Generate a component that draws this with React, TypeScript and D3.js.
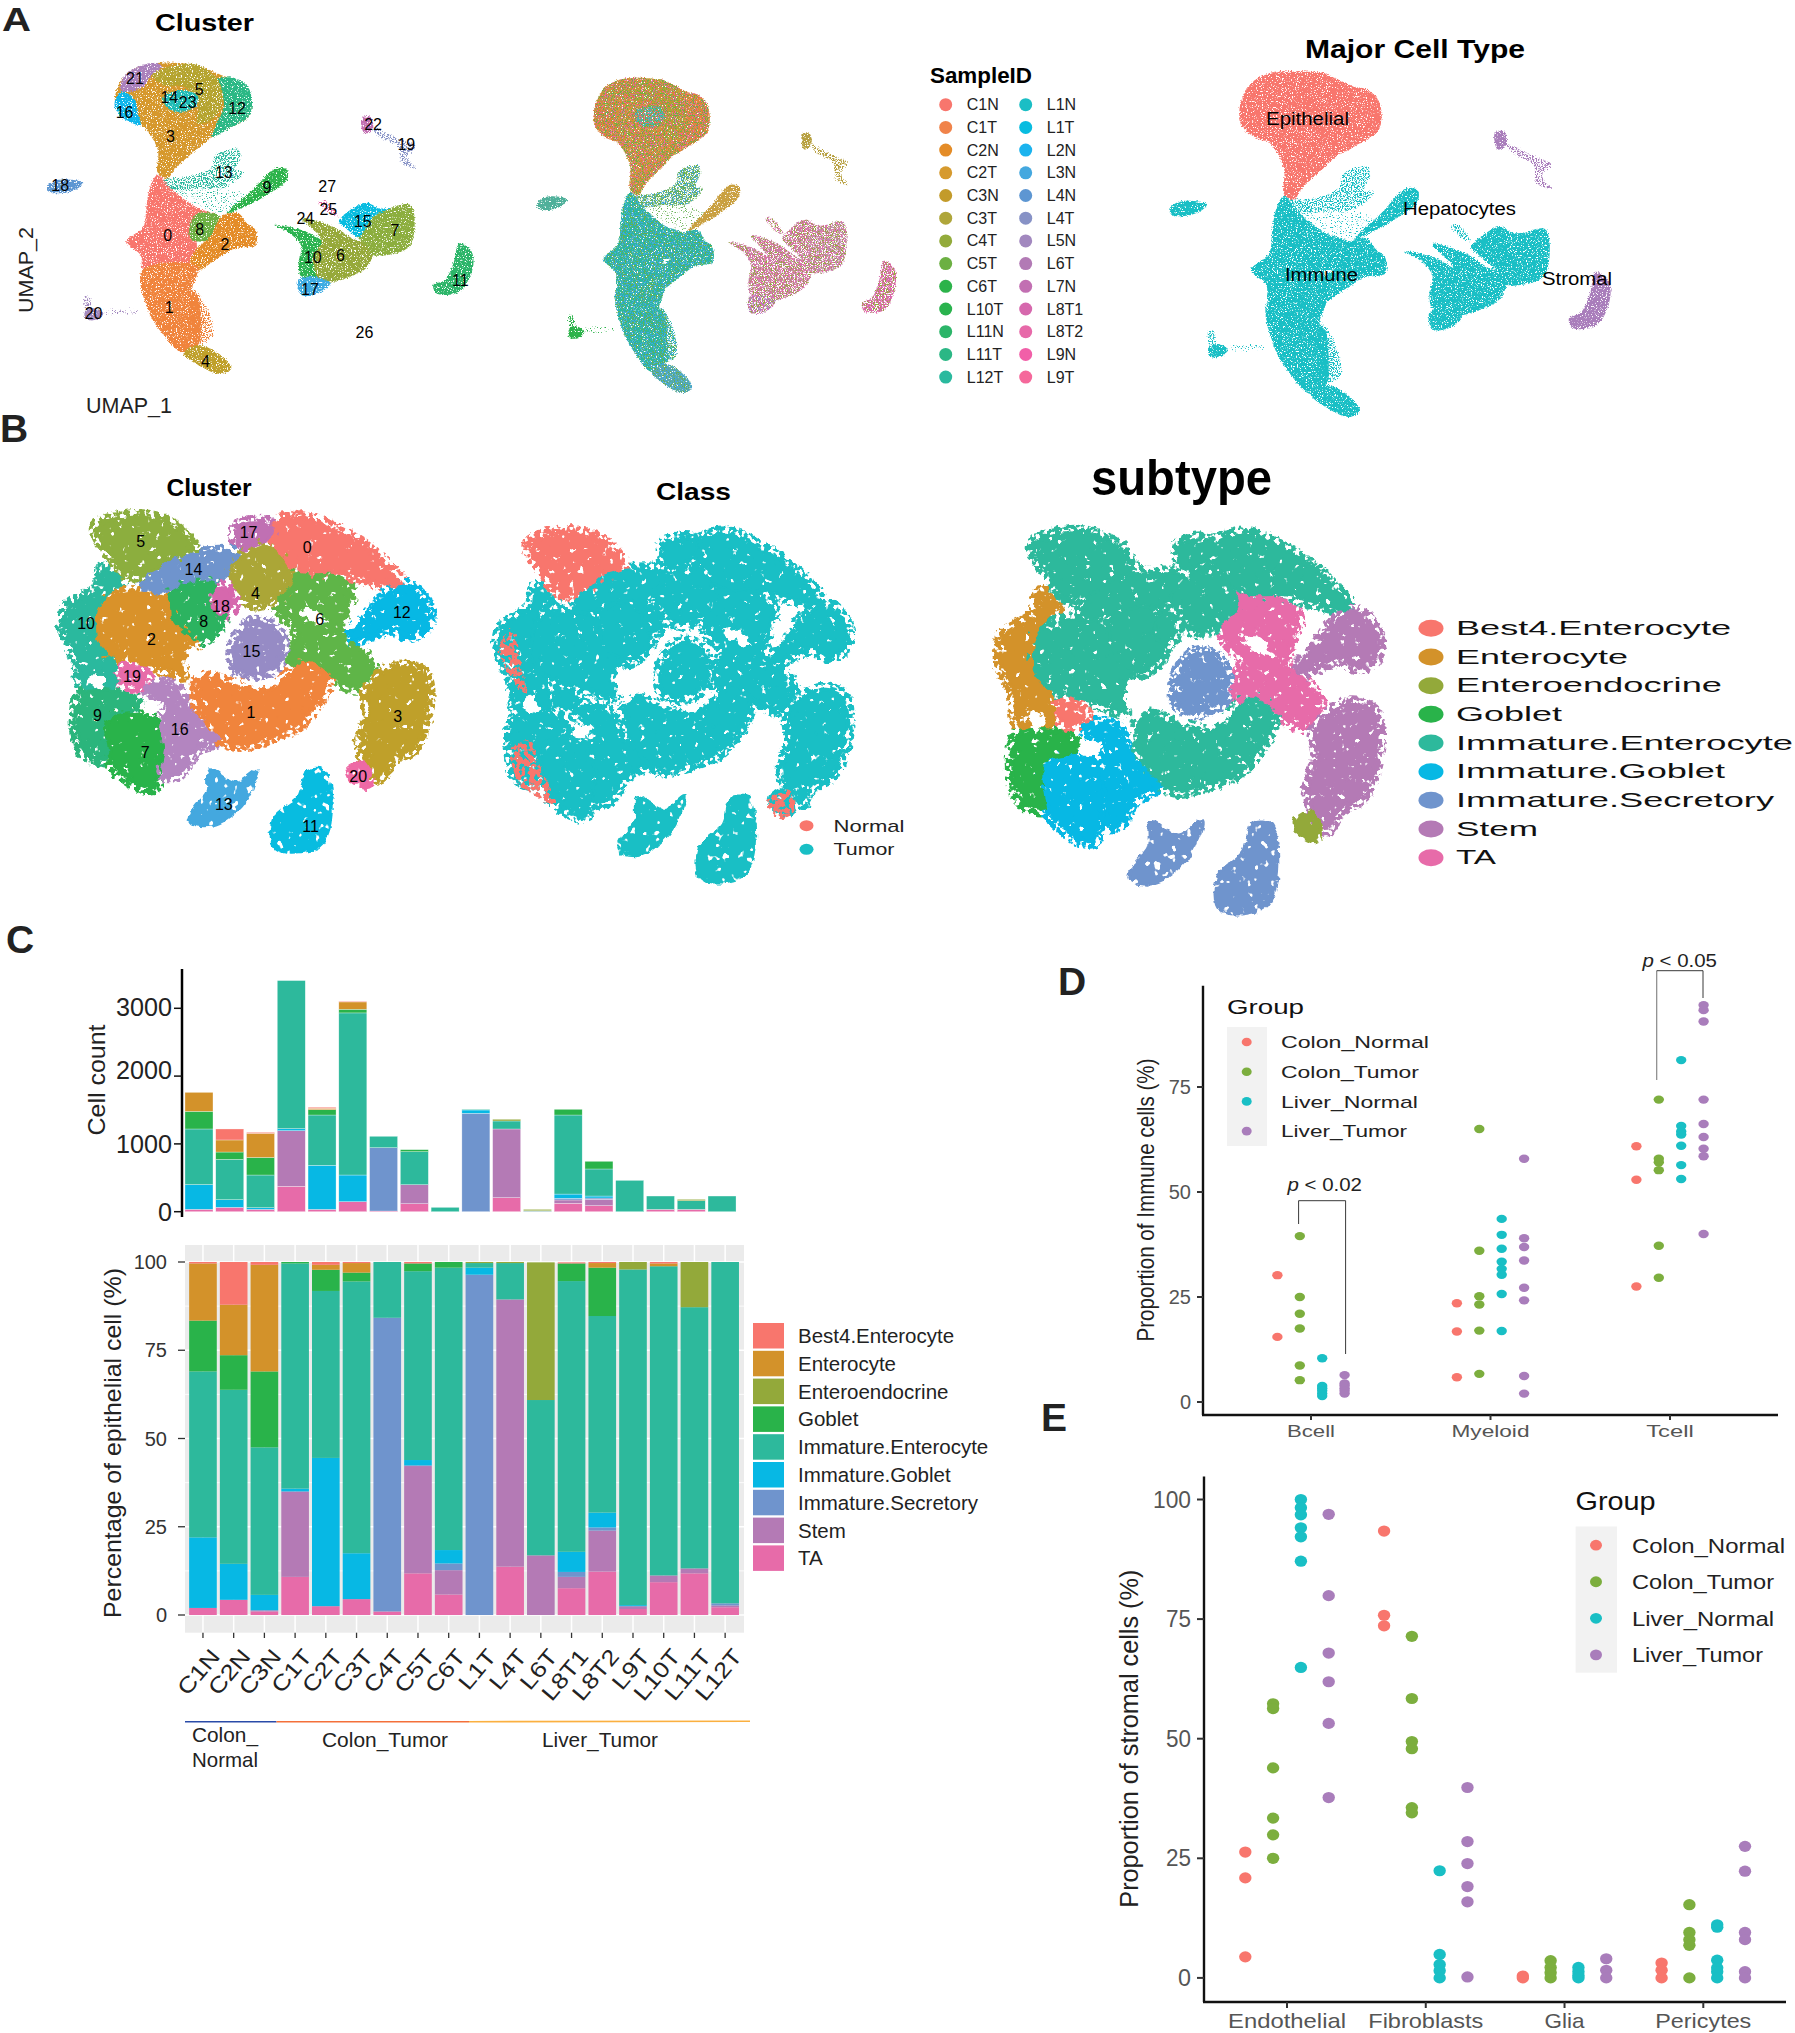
import React from "react";
import * as d3 from "d3";

type P = [number, number];
const FONT = "'Liberation Sans', Arial, sans-serif";

// ---------- Panel A: UMAP regions (UMAP-plot units) ----------
const a3: P[] = [[205,260],[225,215],[270,190],[340,195],[385,225],[430,260],[435,345],[400,385],[370,410],[335,460],[305,505],[292,535],[275,520],[275,450],[250,380],[210,340],[200,300]];
const a12: P[] = [[375,240],[410,235],[435,270],[435,345],[400,385],[370,410],[375,380],[390,320],[385,270]];
const a21: P[] = [[210,265],[220,220],[270,188],[282,200],[262,230],[250,260],[215,275]];
const a16: P[] = [[203,290],[215,275],[235,300],[240,340],[245,375],[215,355],[200,320]];
const a5: P[] = [[265,225],[310,195],[345,195],[380,240],[388,300],[375,350],[345,370],[345,300],[320,260],[285,255]];
const a14: P[] = [[285,290],[320,270],[345,290],[340,320],[310,335],[290,320]];
const a13: P[] = [[285,540],[330,530],[370,500],[375,465],[415,447],[420,470],[410,510],[425,515],[395,560],[340,565],[300,570]];
const a13b: P[] = [[290,560],[340,560],[400,570],[430,590],[395,640],[345,615],[310,580]];
const a9: P[] = [[395,640],[440,570],[480,505],[500,510],[500,540],[460,590],[420,625]];
const a0: P[] = [[275,525],[300,570],[345,625],[375,645],[345,690],[340,770],[300,810],[250,810],[245,765],[220,725],[250,680],[255,620],[262,560]];
const a8: P[] = [[345,640],[385,650],[385,690],[365,720],[335,720],[330,680]];
const a2: P[] = [[385,650],[415,640],[430,670],[445,690],[445,735],[410,745],[375,780],[345,810],[330,790],[345,740],[365,715]];
const a1: P[] = [[248,810],[345,800],[335,870],[345,890],[350,1000],[345,1035],[320,1060],[285,1005],[258,930]];
const a1w: P[] = [[338,870],[360,920],[370,1010],[345,1030],[330,960]];
const a4: P[] = [[320,1060],[345,1035],[380,1060],[403,1105],[385,1122],[345,1095]];
const a18: P[] = [[82,560],[100,540],[145,548],[130,570],[100,580],[85,575]];
const a20: P[] = [[148,935],[165,925],[180,940],[170,958],[150,958]];
const a20w: P[] = [[148,888],[155,890],[158,930],[150,930]];
const a20t: P[] = [[180,930],[240,930],[240,938],[180,938]];
const a22: P[] = [[630,355],[645,350],[650,385],[635,400]];
const a19: P[] = [[650,385],[700,420],[725,440],[710,470],[725,505],[700,490],[695,440],[660,410]];
const a11: P[] = [[800,730],[820,750],[825,790],[810,860],[790,882],[760,880],[755,855],[775,840],[790,790],[795,750]];
const a10: P[] = [[478,675],[525,690],[560,720],[590,770],[590,830],[550,840],[525,830],[520,790],[525,740],[505,700]];
const a6: P[] = [[525,655],[580,680],[620,720],[650,740],[640,800],[610,830],[560,845],[545,780],[560,720]];
const a7: P[] = [[680,625],[715,615],[722,690],[710,745],[650,765],[640,740],[620,700],[650,650]];
const a15: P[] = [[590,665],[615,625],[640,608],[660,625],[680,625],[650,650],[625,710],[600,680]];
const a17: P[] = [[520,840],[550,830],[575,850],[555,880],[525,885]];
const a25: P[] = [[555,605],[570,605],[590,650],[575,640]];

const aRegions: { id: string; pts: P[]; c1: string; c2: string; c3: string; sparse?: boolean; faint?: boolean }[] = [
  { id: "3", pts: a3, c1: "#D6982C", c2: "#D09A3A", c3: "#F8766D" },
  { id: "12", pts: a12, c1: "#2BB885", c2: "#E08A3C", c3: "#F8766D" },
  { id: "21", pts: a21, c1: "#AA80BC", c2: "#C89A3A", c3: "#F8766D" },
  { id: "16", pts: a16, c1: "#0DB5EB", c2: "#D98A3A", c3: "#F8766D" },
  { id: "5", pts: a5, c1: "#B5A42F", c2: "#B5A42F", c3: "#F8766D" },
  { id: "14", pts: a14, c1: "#1FBCB6", c2: "#3BBBB5", c3: "#F8766D" },
  { id: "13", pts: a13, c1: "#2AB99E", c2: "#6DB35A", c3: "#19BFC5", sparse: true },
  { id: "13b", pts: a13b, c1: "#2AB99E", c2: "#6DB35A", c3: "#19BFC5", faint: true },
  { id: "9", pts: a9, c1: "#2CB34A", c2: "#C9A040", c3: "#19BFC5" },
  { id: "0", pts: a0, c1: "#F8766D", c2: "#2AB79F", c3: "#19BFC5" },
  { id: "8", pts: a8, c1: "#6CB043", c2: "#2AB79F", c3: "#19BFC5" },
  { id: "2", pts: a2, c1: "#E48C27", c2: "#2AB79F", c3: "#19BFC5" },
  { id: "1", pts: a1, c1: "#F0843C", c2: "#2AB79F", c3: "#19BFC5" },
  { id: "1w", pts: a1w, c1: "#F0843C", c2: "#2AB79F", c3: "#19BFC5", sparse: true },
  { id: "4", pts: a4, c1: "#BFA02A", c2: "#55A8B0", c3: "#19BFC5" },
  { id: "18", pts: a18, c1: "#5D96D2", c2: "#4FB09A", c3: "#19BFC5" },
  { id: "20", pts: a20, c1: "#A288BF", c2: "#2CB34A", c3: "#19BFC5" },
  { id: "20w", pts: a20w, c1: "#A288BF", c2: "#2CB34A", c3: "#19BFC5", sparse: true },
  { id: "20t", pts: a20t, c1: "#A288BF", c2: "#2CB34A", c3: "#19BFC5", faint: true },
  { id: "22", pts: a22, c1: "#C26FB2", c2: "#B7A040", c3: "#A97DBB" },
  { id: "19", pts: a19, c1: "#8792C6", c2: "#B7A040", c3: "#A97DBB", sparse: true },
  { id: "11", pts: a11, c1: "#2CB569", c2: "#D668AD", c3: "#A97DBB" },
  { id: "10", pts: a10, c1: "#2BB350", c2: "#C97FA8", c3: "#19BFC5" },
  { id: "6", pts: a6, c1: "#96A93A", c2: "#C97FA8", c3: "#19BFC5" },
  { id: "7", pts: a7, c1: "#8CAE3E", c2: "#C48BB0", c3: "#19BFC5" },
  { id: "15", pts: a15, c1: "#08BCE0", c2: "#C97FA8", c3: "#19BFC5" },
  { id: "17", pts: a17, c1: "#3DABE2", c2: "#B07FC0", c3: "#19BFC5" },
  { id: "25", pts: a25, c1: "#E769A9", c2: "#C97FA8", c3: "#19BFC5", sparse: true },
];
const aLabels: [string, number, number][] = [["21",235,235],["16",217,335],["14",295,290],["23",327,307],["5",347,268],["12",413,325],["3",297,408],["13",390,515],["9",465,560],["18",105,555],["22",650,372],["19",708,432],["27",570,558],["25",572,628],["24",532,655],["15",632,662],["7",688,690],["0",292,705],["8",348,688],["2",392,732],["10",545,770],["6",593,765],["17",540,866],["11",802,840],["20",163,940],["1",295,920],["4",358,1082],["26",635,997]];
const sampleIds = ["C1N","C1T","C2N","C2T","C3N","C3T","C4T","C5T","C6T","L10T","L11N","L11T","L12T","L1N","L1T","L2N","L3N","L4N","L4T","L5N","L6T","L7N","L8T1","L8T2","L9N","L9T"];
const sampleColors = ["#F8766D","#F0834A","#E48C27","#D69A2E","#C39B2A","#AFA63A","#93AB3B","#6CB043","#2CB34A","#2AB34E","#2CB569","#2BB785","#2AB99E","#1BBEC5","#08BCE0","#1BB3EE","#44A8DF","#5D96D2","#8792C6","#A288BF","#B27AB5","#C26FB2","#D668AD","#E769A9","#F15FA8","#F5689B"];

// ---------- Panel B: UMAP regions ----------
const b5: P[] = [[170,290],[230,262],[275,270],[310,300],[335,360],[300,380],[270,420],[220,430],[195,370],[172,320]];
const b0: P[] = [[470,295],[525,265],[575,295],[640,360],[700,470],[650,450],[590,425],[520,420],[480,370]];
const b17: P[] = [[415,290],[470,285],[470,320],[440,350],[420,360],[412,325]];
const b14: P[] = [[260,430],[300,385],[350,370],[420,380],[400,430],[360,470],[300,480],[250,490]];
const b4: P[] = [[420,385],[465,350],[500,410],[510,450],[490,490],[440,520],[410,470],[400,430]];
const b6: P[] = [[490,440],[530,415],[590,440],[610,490],[590,600],[620,650],[650,720],[620,770],[560,720],[500,690],[520,600],[490,540]];
const b8: P[] = [[305,480],[370,460],[390,510],[390,560],[350,630],[310,600],[290,540]];
const b18: P[] = [[375,490],[395,470],[405,530],[385,550],[372,530]];
const b10: P[] = [[180,420],[170,480],[120,530],[112,590],[135,680],[150,780],[200,770],[200,700],[180,600],[175,520],[210,450]];
const b2: P[] = [[180,520],[230,490],[290,510],[300,580],[335,640],[320,730],[280,710],[220,690],[175,640]];
const b19: P[] = [[205,730],[230,710],[255,740],[235,765],[210,750]];
const b9: P[] = [[145,790],[215,790],[240,830],[190,930],[190,985],[150,970],[135,910]];
const b7: P[] = [[190,870],[270,860],[285,930],[275,1040],[265,1075],[200,1010],[190,950]];
const b16: P[] = [[250,770],[300,770],[340,860],[385,920],[340,960],[310,1030],[285,1030],[290,950],[280,890],[290,830]];
const b15: P[] = [[410,640],[440,580],[480,600],[490,690],[440,735],[410,710]];
const b1: P[] = [[350,740],[395,760],[470,780],[530,700],[570,740],[520,880],[460,925],[400,938],[350,850]];
const b12: P[] = [[610,630],[680,490],[710,470],[745,540],[735,600],[700,610],[690,590]];
const b3: P[] = [[640,780],[690,715],[735,730],[745,800],[720,950],[680,990],[660,1040],[640,1000],[630,940],[645,850]];
const b20: P[] = [[605,1020],[635,995],[650,1060],[640,1075],[610,1050]];
const b13: P[] = [[365,1020],[410,1060],[450,1020],[420,1130],[370,1185],[330,1175],[340,1130],[360,1090]];
const b11: P[] = [[535,1025],[565,1025],[575,1180],[555,1250],[480,1255],[477,1165],[520,1100]];
const bRegions: { pts: P[]; c1: string; c3: string; normal?: boolean; island?: boolean }[] = [
  { pts: b10, c1: "#2AB99E", c3: "#D3922A" },
  { pts: b6, c1: "#5FB548", c3: "#E76BA9" },
  { pts: b0, c1: "#F8766D", c3: "#2DB99C" },
  { pts: b17, c1: "#C070B3", c3: "#2DB99C" },
  { pts: b14, c1: "#6F94CD", c3: "#2DB99C" },
  { pts: b8, c1: "#2CB360", c3: "#2DB99C" },
  { pts: b4, c1: "#ABA637", c3: "#2DB99C" },
  { pts: b18, c1: "#D668AD", c3: "#2DB99C" },
  { pts: b2, c1: "#D9922A", c3: "#2DB99C" },
  { pts: b9, c1: "#2BB57C", c3: "#29B34A" },
  { pts: b7, c1: "#29B34A", c3: "#07B8E4" },
  { pts: b16, c1: "#B385C0", c3: "#07B8E4" },
  { pts: b15, c1: "#968BC5", c3: "#6F94CD" },
  { pts: b1, c1: "#F0843C", c3: "#2DB99C" },
  { pts: b12, c1: "#07B8E4", c3: "#B47AB5" },
  { pts: b3, c1: "#BFA02A", c3: "#B47AB5" },
  { pts: b5, c1: "#8CAE3E", c3: "#2DB99C", normal: true },
  { pts: b19, c1: "#E76BA9", c3: "#F8766D" },
  { pts: b20, c1: "#EE69A5", c3: "#93A93A", island: true },
  { pts: b13, c1: "#44A8DF", c3: "#6F94CD", island: true },
  { pts: b11, c1: "#08BCE0", c3: "#6F94CD", island: true },
];
const bHoles: P[][] = [
  [[330,650],[355,660],[365,700],[345,745],[325,720]],
  [[255,815],[280,820],[272,850],[245,845]],
  [[420,745],[440,760],[490,730],[510,715],[478,765],[440,770],[405,752]],
  [[520,545],[545,535],[570,585],[540,575]],
  [[615,520],[645,510],[628,565],[612,590]],
  [[645,650],[685,665],[675,705],[655,690]],
  [[165,730],[185,750],[175,780],[155,750]],
];
const classEdgeA: P[] = [[112,590],[135,540],[150,640],[160,720],[135,680]];
const classEdgeB: P[] = [[135,880],[165,860],[190,950],[215,1040],[150,985]];
const classEdgeC: P[] = [[600,1035],[640,1000],[650,1060],[625,1085]];
const bLabels: [string, number, number][] = [["5",245,333],["17",433,307],["0",535,352],["14",337,418],["4",445,488],["18",385,527],["6",557,566],["12",700,545],["8",355,572],["10",150,580],["2",264,627],["15",438,663],["19",230,738],["9",170,855],["1",437,847],["3",693,857],["16",313,898],["7",253,967],["20",624,1037],["13",390,1123],["11",541,1187]];
const subtypeWidths = [275,172,266,106,337,269,318,82,40];

// ---------- Panel C ----------
const samples = ["C1N","C2N","C3N","C1T","C2T","C3T","C4T","C5T","C6T","L1T","L4T","L6T","L8T1","L8T2","L9T","L10T","L11T","L12T"];
const sampleLabelLen = [52,52,52,49,49,49,49,49,49,45,45,45,59,59,45,59,59,59];
const subtypes = ["Best4.Enterocyte","Enterocyte","Enteroendocrine","Goblet","Immature.Enterocyte","Immature.Goblet","Immature.Secretory","Stem","TA"];
const subtypeColors = ["#F8766D","#D3922A","#93A93A","#29B34A","#2DB99C","#07B8E4","#6F94CD","#B47AB5","#E76BA9"];
const pctTA = [2,4.3,1,10.8,2.5,4.5,1,11.8,5.8,0,13.7,0,7.6,12.3,1.7,9.3,11.8,2.2];
const pctStem = [0,0,0.2,24.2,0,0,0,30.4,6.9,0,75.7,16.9,3.2,11.6,0.8,1.9,1.4,0.5];
const pctSec = [0,0,0.2,0,0,0,83.2,0.2,1.9,96.4,0,0,1.4,0.9,0,0,0,0.6];
const pctImmGob = [20,10.2,4.3,0.8,42,13,0,1.5,3.8,2,0,0,5.7,4.2,0.3,0,0,0];
const pctImmEnt = [47,49.3,41.8,63.8,47.3,77,15.8,53.5,80,1.3,10.3,44,76.7,55.7,95.1,87.6,74,96.7];
const pctGoblet = [14.4,9.8,21.5,0.4,6,2.5,0,2.2,1.6,0,0,0,5,13.7,0,0,0,0];
const pctEnt = [16.2,14.3,30.2,0,1.4,2.7,0,0,0,0,0,0,0,1.3,0,0.8,0,0];
const pctEndo = [0,0,0,0,0,0,0,0,0,0.3,0.3,39,0,0,2.1,0,12.8,0];
const pctBest = [0.4,12.1,0.8,0,0.8,0.3,0,0.4,0,0,0,0,0.3,0.3,0,0.4,0,0];
const nTA = [35,64,34,374,34,148,10,118,0,0,207,0,123,89,0,34,34,0];
const nStem = [0,0,0,821,0,0,0,280,0,0,1013,6,50,93,0,0,0,0];
const nSec = [0,0,0,0,0,0,934,0,0,1451,0,0,24,20,0,0,0,0];
const nImmGob = [365,113,25,30,650,393,0,0,0,49,0,0,63,29,0,0,0,0];
const nImmEnt = [820,595,482,2184,742,2391,168,487,64,10,118,8,1166,399,462,197,128,231];
const nGoblet = [260,108,259,0,79,54,0,30,0,0,0,0,84,113,0,0,0,0];
const nEnt = [280,178,356,0,20,108,0,0,0,0,0,0,0,0,0,0,0,0];
const nEndo = [0,0,0,0,0,0,0,0,0,0,25,20,0,0,0,0,20,0];
const nBest = [0,162,14,0,15,10,0,0,0,0,0,0,0,0,0,0,0,0];
const pctSeries = [pctTA,pctStem,pctSec,pctImmGob,pctImmEnt,pctGoblet,pctEndo,pctEnt,pctBest];
const countSeries = [nTA,nStem,nSec,nImmGob,nImmEnt,nGoblet,nEndo,nEnt,nBest];
const stackOrder = [8,7,6,5,4,3,2,1,0];
const pctTicks = [0,25,50,75,100];
const pctMinor = [12.5,37.5,62.5,87.5];
const countTicks = [0,1000,2000,3000];
const countLabelShift = [0,0,-6.5,-1];

// ---------- Panels D, E ----------
const groups = ["Colon_Normal","Colon_Tumor","Liver_Normal","Liver_Tumor"];
const groupColors = ["#F8766D","#7CAE3E","#19BFC5","#A97DBB"];
const immuneCats = ["Bcell","Myeloid","Tcell"];
const bcell = [[30.2,15.5],[39.5,25,21,17.5,8.7,5.2],[10.4,3.8,3.3,2.7,2,1.4],[6.4,4.4,3.9,3.3,2.7,2]];
const myeloid = [[23.5,16.8,5.9],[65,36,25.2,23.2,17,6.7],[43.6,39.8,36.5,33.4,31.7,30.3,25.7,16.9],[57.9,39,36.9,33.7,27.2,24.2,6.2,2]];
const tcell = [[60.9,52.9,27.5],[72,57.9,57.1,55.2,37.2,29.6],[81.4,65.7,64.4,63.7,61,56.4,53.1],[94.5,93.3,90.6,72,66.2,63.1,60.3,58.5,40]];
const immuneVals = [bcell,myeloid,tcell];
const stromalCats = ["Endothelial","Fibroblasts","Glia","Pericytes"];
const endo = [[26.3,20.9,4.4],[57.3,56.3,43.9,33.4,29.9,25],[100,98.3,96.8,94.1,92.2,87.1,64.9],[96.9,79.9,67.9,61.9,53.2,37.7]];
const fibro = [[93.4,75.8,73.6],[71.4,58.4,49.4,47.9,35.6,34.5],[22.4,4.9,2.8,1.5,0],[39.8,28.5,23.9,19.1,15.9,0.2]];
const glia = [[0.4,0],[3.6,2.2,1.1,0],[2.2,1.3,0.5,0],[4,1.6,0]];
const peri = [[3.1,1.6,0],[15.3,9.5,8,6.8,0],[11.1,10.6,3.7,2.1,1.3,0],[27.5,22.3,9.5,8,1.3,0]];
const stromalVals = [endo,fibro,glia,peri];

const T = (p: { x: number; y: number; s: number; w?: number; a?: string; b?: boolean; c?: string; r?: number; i?: boolean; children: any; ff?: string }) => (
  <text
    x={p.r == null ? p.x : 0} y={p.r == null ? p.y : 0}
    transform={p.r == null ? undefined : `translate(${p.x},${p.y}) rotate(${p.r})`}
    fontSize={p.s} fontFamily={p.ff || FONT} fontWeight={p.b ? "bold" : "normal"} fontStyle={p.i ? "italic" : undefined}
    fill={p.c || "#111"} textAnchor={(p.a as any) || "start"}
    textLength={p.w} lengthAdjust={p.w ? "spacingAndGlyphs" : undefined}
  >{p.children}</text>
);

const blob = (pts: P[], sx: any, sy: any) =>
  d3.line<P>().x((d) => sx(d[0])).y((d) => sy(d[1])).curve(d3.curveCatmullRomClosed.alpha(0.5))(pts) || "";

const Filter = ({ id, freq, disp, k, c, seed }: { id: string; freq: number; disp: number; k: number; c: number; seed: number }) => (
  <filter id={id} filterUnits="userSpaceOnUse" x={0} y={0} width={1795} height={2033} colorInterpolationFilters="sRGB">
    <feTurbulence type="fractalNoise" baseFrequency={freq} numOctaves={2} seed={seed} result="n" />
    <feDisplacementMap in="SourceGraphic" in2="n" scale={disp} xChannelSelector="R" yChannelSelector="G" result="d" />
    <feColorMatrix in="n" type="matrix" values={`0 0 0 0 0  0 0 0 0 0  0 0 0 0 0  0 0 0 ${k} ${c}`} result="m" />
    <feComposite in="d" in2="m" operator="in" />
  </filter>
);

function Scatter({ cats, vals, x0, dodge, y, rx, ry }: any) {
  return (
    <g>
      {cats.map((_: string, ci: number) =>
        vals[ci].map((grp: number[], gi: number) =>
          grp.map((v: number, j: number) => (
            <ellipse key={`${ci}-${gi}-${j}`} cx={x0(cats[ci]) + (gi - 1.5) * dodge} cy={y(v)} rx={rx} ry={ry} fill={groupColors[gi]} />
          ))
        )
      )}
    </g>
  );
}

function BMap({ sx, sy, fill, sw, children }: any) {
  return (
    <g>
      <g filter="url(#bEdge)">
        {bRegions.filter((r) => !r.island).map((r, i) => <path key={i} d={blob(r.pts, sx, sy)} fill={fill(r)} stroke={fill(r)} strokeWidth={sw} strokeLinejoin="round" />)}
      </g>
      <g filter="url(#bFilt)">
        {bRegions.map((r, i) => <path key={i} d={blob(r.pts, sx, sy)} fill={fill(r)} stroke={fill(r)} strokeWidth={3} strokeLinejoin="round" />)}
      </g>
      {children}
      <g fill="#fff" filter="url(#bHole)">{bHoles.map((h, i) => <path key={i} d={blob(h, sx, sy)} />)}</g>
    </g>
  );
}

export default function App() {
  // panel A scales
  const a1x = d3.scaleLinear().domain([0, 1568]).range([0, 900]);
  const a1y = d3.scaleLinear().domain([0, 1290]).range([0, 430]);
  const a2x = d3.scaleLinear().domain([82, 825]).range([537, 896]);
  const a2y = d3.scaleLinear().domain([185, 1122]).range([77, 393]);
  const a3x = d3.scaleLinear().domain([82, 825]).range([1169.4, 1610.6]);
  const a3y = d3.scaleLinear().domain([185, 1122]).range([70, 417]);
  // panel B scales
  const b1x = d3.scaleLinear().domain([0, 1568]).range([0, 900]);
  const b1y = d3.scaleLinear().domain([0, 1440]).range([430, 910]);
  const b2x = d3.scaleLinear().domain([112, 745]).range([499.4, 846.7]);
  const b2y = d3.scaleLinear().domain([262, 1255]).range([533.3, 878.3]);
  const b3x = d3.scaleLinear().domain([112, 745]).range([1000, 1378]);
  const b3y = d3.scaleLinear().domain([262, 1255]).range([533, 910]);

  // panel C scales
  const cTop = d3.scaleLinear().domain([0, 3000]).range([1211.7, 1008.3]);
  const cTopX = d3.scaleBand<string>().domain(samples).range([183.6, 737.4]).paddingInner(0.09).paddingOuter(0.045);
  const cBot = d3.scaleLinear().domain([0, 100]).range([1615, 1262]);
  const cBotX = d3.scaleBand<string>().domain(samples).range([187.6, 740.5]).paddingInner(0.1).paddingOuter(0.05);
  const stackOf = (series: number[][]) => {
    const rows = samples.map((_, i) => Object.fromEntries(series.map((s, k) => [String(k), s[i]])));
    return d3.stack<any>().keys(series.map((_, k) => String(k)))(rows);
  };
  const pctStack = stackOf(pctSeries);
  const countStack = stackOf(countSeries);

  // panel D, E scales
  const dY = d3.scaleLinear().domain([0, 75]).range([1402, 1087]);
  const dX = d3.scalePoint<string>().domain(immuneCats).range([1311, 1670]);
  const eY = d3.scaleLinear().domain([0, 100]).range([1977.9, 1499.5]);
  const eX = d3.scalePoint<string>().domain(stromalCats).range([1287, 1703.3]);

  const solid = aRegions.filter((r) => !r.sparse && !r.faint);
  const sparse = aRegions.filter((r) => r.sparse);
  const faint = aRegions.filter((r) => r.faint);
  const head = ["3","12","21","16","5","14"];
  const body = ["0","1","2","8","4","13","1w"];
  const strom = ["6","7","10","15","17","11","25"];
  const overlay = (ids: string[], color: string, filter: string) => (
    <g fill={color} filter={`url(#${filter})`}>
      {aRegions.filter((r) => ids.includes(r.id)).map((r) => <path key={r.id} d={blob(r.pts, a2x, a2y)} />)}
    </g>
  );
  const umapA = (sx: any, sy: any, key: "c1" | "c2" | "c3") => (
    <g>
      <g filter="url(#faint)">{faint.map((r) => <path key={r.id} d={blob(r.pts, sx, sy)} fill={r[key]} />)}</g>
      <g filter="url(#sparse)">{sparse.map((r) => <path key={r.id} d={blob(r.pts, sx, sy)} fill={r[key]} />)}</g>
      <g filter="url(#grain)">{solid.map((r) => <path key={r.id} d={blob(r.pts, sx, sy)} fill={r[key]} />)}</g>
    </g>
  );

  return (
    <svg width={1795} height={2033} viewBox="0 0 1795 2033" style={{ position: "absolute", left: 0, top: 0, display: "block", background: "#fff" }}>
      <defs>
        <Filter id="grain" freq={0.8} disp={4} k={9} c={-2.6} seed={3} />
        <Filter id="sparse" freq={0.8} disp={5} k={11} c={-5.2} seed={8} />
        <Filter id="faint" freq={0.8} disp={5} k={11} c={-6.6} seed={13} />
        <Filter id="sp1" freq={0.9} disp={3} k={11} c={-5.6} seed={11} />
        <Filter id="sp2" freq={0.9} disp={3} k={11} c={-5.9} seed={17} />
        <Filter id="sp3" freq={0.9} disp={3} k={11} c={-6.1} seed={23} />
        <Filter id="bFilt" freq={0.13} disp={7} k={14} c={-3.9} seed={5} />
        <Filter id="bEdge" freq={0.2} disp={7} k={14} c={-5.9} seed={9} />
        <Filter id="bHole" freq={0.15} disp={14} k={0} c={1} seed={4} />
      </defs>

      {/* panel letters */}
      <T x={2} y={31} s={34} b w={29} c="#222">A</T>
      <T x={0} y={442} s={39} b c="#222">B</T>
      <T x={6} y={953} s={39} b c="#222">C</T>
      <T x={1058} y={995} s={39} b c="#222">D</T>
      <T x={1041} y={1431} s={39} b c="#222">E</T>

      {/* A1 clusters */}
      <T x={155} y={31} s={23} b w={99} c="#000">Cluster</T>
      {umapA(a1x, a1y, "c1")}
      {aLabels.map(([t, x, y]) => (
        <T key={t} x={a1x(x)} y={a1y(y) + 6} s={16} a="middle" c="#000">{t}</T>
      ))}
      <T x={33} y={270} s={21} r={-90} a="middle" w={86} c="#222">UMAP_2</T>
      <T x={86} y={413} s={22} w={86} c="#222">UMAP_1</T>

      {/* A2 samples */}
      {umapA(a2x, a2y, "c2")}
      {overlay(head, "#E8753A", "sp1")}
      {overlay(head, "#E769A9", "sp3")}
      {overlay(head, "#6CB043", "sp2")}
      {overlay(body, "#6CB043", "sp3")}
      {overlay(body, "#44A8DF", "sp2")}
      {overlay(strom, "#E769A9", "sp1")}
      {overlay(strom, "#93AB3B", "sp2")}
      {overlay(strom, "#ffffff", "sp3")}

      <T x={930} y={83} s={22} b w={102} c="#000">SampleID</T>
      {sampleIds.map((s, i) => {
        const col = i < 13 ? 0 : 1;
        const row = i < 13 ? i : i - 13;
        const cy = 104.7 + row * 22.7;
        return (
          <g key={s}>
            <ellipse cx={945.7 + col * 80} cy={cy} rx={6.5} ry={6.5} fill={sampleColors[i]} />
            <T x={966.8 + col * 80} y={cy + 5.5} s={16} c="#222">{s}</T>
          </g>
        );
      })}

      {/* A3 major type */}
      <T x={1305} y={58} s={25} b w={220} c="#000">Major Cell Type</T>
      {umapA(a3x, a3y, "c3")}
      <T x={1266} y={125} s={18} w={83} c="#000">Epithelial</T>
      <T x={1403} y={215} s={18} w={113} c="#000">Hepatocytes</T>
      <T x={1285} y={281} s={18} w={73} c="#000">Immune</T>
      <T x={1542} y={285} s={18} w={70} c="#000">Stromal</T>

      {/* B1 clusters */}
      <T x={166.5} y={496} s={23} b w={85} c="#000">Cluster</T>
      <BMap sx={b1x} sy={b1y} fill={(r: any) => r.c1} sw={16} />
      {bLabels.map(([t, x, y]) => (
        <T key={t} x={b1x(x)} y={b1y(y) + 6} s={16} a="middle" c="#000">{t}</T>
      ))}

      {/* B2 class */}
      <T x={656} y={500} s={23} b w={75} c="#000">Class</T>
      <BMap sx={b2x} sy={b2y} fill={(r: any) => (r.normal ? "#F8766D" : "#19BFC5")} sw={16}>
        <g filter="url(#bEdge)" fill="#F8766D">
          {[classEdgeA, classEdgeB, classEdgeC].map((h, i) => <path key={i} d={blob(h, b2x, b2y)} />)}
        </g>
      </BMap>
      <ellipse cx={806.5} cy={825.7} rx={7} ry={5.5} fill="#F8766D" />
      <ellipse cx={806.5} cy={849.3} rx={7} ry={5.5} fill="#19BFC5" />
      <T x={833.5} y={831.5} s={17} w={71} c="#222">Normal</T>
      <T x={833.5} y={855} s={17} w={61} c="#222">Tumor</T>

      {/* B3 subtype */}
      <T x={1091} y={495} s={50} b w={181} c="#000">subtype</T>
      <BMap sx={b3x} sy={b3y} fill={(r: any) => r.c3} sw={16} />
      {subtypes.map((s, i) => (
        <g key={s}>
          <ellipse cx={1431} cy={628.3 + i * 28.67} rx={12.5} ry={8.5} fill={subtypeColors[i]} />
          <T x={1456} y={635 + i * 28.67} s={21} w={subtypeWidths[i]} c="#111">{s}</T>
        </g>
      ))}

      {/* C top bars */}
      {countStack.map((layer, k) => (
        <g key={k} fill={subtypeColors[stackOrder[k]]}>
          {layer.map((d, i) => d[1] > d[0] ? (
            <rect key={i} x={cTopX(samples[i])} width={cTopX.bandwidth()} y={cTop(d[1])} height={cTop(d[0]) - cTop(d[1])} stroke="#fff" strokeOpacity={0.6} strokeWidth={0.5} />
          ) : null)}
        </g>
      ))}
      <line x1={182} x2={182} y1={969} y2={1217} stroke="#000" strokeWidth={2.5} />
      {countTicks.map((t, i) => (
        <g key={t}>
          <line x1={174} x2={182} y1={cTop(t)} y2={cTop(t)} stroke="#111" strokeWidth={1.5} />
          <T x={172} y={cTop(t) + 9 + countLabelShift[i]} s={26} a="end" w={t === 0 ? 14 : 56} c="#222">{t}</T>
        </g>
      ))}
      <T x={105} y={1080} s={24} r={-90} a="middle" w={111} c="#222">Cell count</T>

      {/* C bottom stacked percent */}
      <rect x={185} y={1245} width={559} height={387.7} fill="#EBEBEB" />
      {pctTicks.map((t) => <line key={t} x1={185} x2={744} y1={cBot(t)} y2={cBot(t)} stroke="#fff" strokeWidth={1.5} />)}
      {pctMinor.map((t) => <line key={t} x1={185} x2={744} y1={cBot(t)} y2={cBot(t)} stroke="#fff" strokeWidth={0.8} />)}
      {samples.map((s) => <line key={s} x1={cBotX(s)! + cBotX.bandwidth() / 2} x2={cBotX(s)! + cBotX.bandwidth() / 2} y1={1245} y2={1632.7} stroke="#fff" strokeWidth={1.5} />)}
      {pctStack.map((layer, k) => (
        <g key={k} fill={subtypeColors[stackOrder[k]]}>
          {layer.map((d, i) => d[1] > d[0] ? (
            <rect key={i} x={cBotX(samples[i])} width={cBotX.bandwidth()} y={cBot(d[1])} height={cBot(d[0]) - cBot(d[1])} />
          ) : null)}
        </g>
      ))}
      {pctTicks.map((t) => (
        <g key={t}>
          <line x1={178} x2={185} y1={cBot(t)} y2={cBot(t)} stroke="#333" strokeWidth={1.3} />
          <T x={167} y={cBot(t) + 7} s={20} a="end" c="#333">{t}</T>
        </g>
      ))}
      {samples.map((s, i) => {
        const cx = cBotX(s)! + cBotX.bandwidth() / 2;
        return (
          <g key={s}>
            <line x1={cx} x2={cx} y1={1632.7} y2={1638} stroke="#333" strokeWidth={1.3} />
            <T x={cx + 18} y={1657} s={22} r={-50} a="end" w={sampleLabelLen[i]} c="#222">{s}</T>
          </g>
        );
      })}
      <T x={121} y={1443} s={24} r={-90} a="middle" w={350} c="#222">Percentage of epithelial cell (%)</T>
      <line x1={185} x2={276.5} y1={1721.7} y2={1721.7} stroke="#2A4BA8" strokeWidth={1.6} />
      <line x1={276.5} x2={469} y1={1721.7} y2={1721.7} stroke="#F4703A" strokeWidth={1.6} />
      <line x1={469} x2={750} y1={1721.7} y2={1721.2} stroke="#FBB040" strokeWidth={1.6} />
      <T x={192} y={1742} s={21} w={66} c="#222">Colon_</T>
      <T x={192} y={1767} s={21} w={66} c="#222">Normal</T>
      <T x={385} y={1747} s={21} a="middle" w={126} c="#222">Colon_Tumor</T>
      <T x={600} y={1747} s={21} a="middle" w={116} c="#222">Liver_Tumor</T>
      {subtypes.map((s, i) => (
        <g key={s}>
          <rect x={753} y={1323 + i * 27.8} width={31} height={25.5} fill={subtypeColors[i]} />
          <T x={798} y={1343 + i * 27.8} s={20.5} c="#222">{s}</T>
        </g>
      ))}

      {/* D */}
      <line x1={1203} x2={1203} y1={985.7} y2={1415} stroke="#111" strokeWidth={2.4} />
      <line x1={1202} x2={1778} y1={1415} y2={1415} stroke="#111" strokeWidth={2.4} />
      {[0,25,50,75].map((t) => (
        <g key={t}>
          <line x1={1197} x2={1203} y1={dY(t)} y2={dY(t)} stroke="#333" strokeWidth={2} />
          <T x={1191} y={dY(t) + 7} s={20} a="end" c="#555">{t}</T>
        </g>
      ))}
      {immuneCats.map((c, i) => (
        <g key={c}>
          <line x1={dX(c)} x2={dX(c)} y1={1415} y2={1420} stroke="#333" strokeWidth={2} />
          <T x={dX(c)!} y={1436.7} s={17} a="middle" w={[48,78,47.5][i]} c="#555">{c}</T>
        </g>
      ))}
      <Scatter cats={immuneCats} vals={immuneVals} x0={dX} dodge={22.4} y={dY} rx={5.2} ry={4.2} />
      <T x={1154} y={1200} s={24} r={-90} a="middle" w={283} c="#222">Proportion of Immune cells (%)</T>
      <path d="M1298.6,1224 V1200.7 H1345.6 V1354" fill="none" stroke="#222" strokeWidth={0.9} />
      <path d="M1656.7,1080 V970.7" fill="none" stroke="#888" strokeWidth={1.2} />
      <path d="M1656.7,970.7 H1703 V998" fill="none" stroke="#222" strokeWidth={0.9} />
      <text x={1287.5} y={1190.7} fontSize={19} fontFamily={FONT} fill="#222" textLength={74.5} lengthAdjust="spacingAndGlyphs"><tspan fontStyle="italic">p</tspan> &lt; 0.02</text>
      <text x={1642.5} y={967} fontSize={19} fontFamily={FONT} fill="#222" textLength={74.5} lengthAdjust="spacingAndGlyphs"><tspan fontStyle="italic">p</tspan> &lt; 0.05</text>
      <T x={1227} y={1014} s={21} w={77} c="#111">Group</T>
      <rect x={1227} y={1027} width={40} height={119} fill="#F2F2F2" />
      {groups.map((g, i) => (
        <g key={g}>
          <ellipse cx={1246.7} cy={1042 + i * 29.7} rx={5} ry={4.3} fill={groupColors[i]} />
          <T x={1281} y={1048.3 + i * 29.7} s={17} w={[148,138,137,126][i]} c="#222">{g}</T>
        </g>
      ))}

      {/* E */}
      <line x1={1204} x2={1204} y1={1476.4} y2={2002} stroke="#111" strokeWidth={2.4} />
      <line x1={1203} x2={1786} y1={2002} y2={2002} stroke="#111" strokeWidth={2.4} />
      {[0,25,50,75,100].map((t) => (
        <g key={t}>
          <line x1={1197} x2={1204} y1={eY(t)} y2={eY(t)} stroke="#333" strokeWidth={2} />
          <T x={1191} y={eY(t) + 8} s={23} a="end" w={t === 100 ? 38 : t === 0 ? 13 : 25} c="#555">{t}</T>
        </g>
      ))}
      {stromalCats.map((c, i) => (
        <g key={c}>
          <line x1={eX(c)} x2={eX(c)} y1={2002} y2={2008} stroke="#333" strokeWidth={2} />
          <T x={eX(c)!} y={2027.6} s={21} a="middle" w={[118,115,40,96][i]} c="#555">{c}</T>
        </g>
      ))}
      <Scatter cats={stromalCats} vals={stromalVals} x0={eX} dodge={27.8} y={eY} rx={6.2} ry={5.6} />
      <T x={1138} y={1738.7} s={26} r={-90} a="middle" w={338} c="#222">Proportion of stromal cells (%)</T>
      <T x={1575.6} y={1510.4} s={25} w={80} c="#111">Group</T>
      <rect x={1575.6} y={1526.5} width={41.4} height={146.2} fill="#F2F2F2" />
      {groups.map((g, i) => (
        <g key={g}>
          <ellipse cx={1596} cy={1545.2 + i * 36.55} rx={6} ry={5.4} fill={groupColors[i]} />
          <T x={1632} y={1552.8 + i * 36.55} s={21} w={[153,142,142,131][i]} c="#222">{g}</T>
        </g>
      ))}
    </svg>
  );
}
